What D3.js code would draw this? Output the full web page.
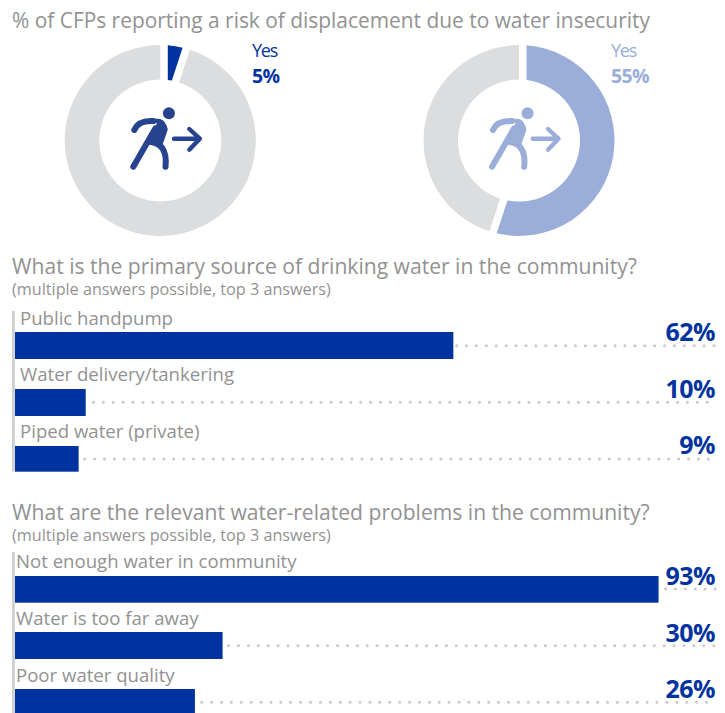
<!DOCTYPE html>
<html>
<head>
<meta charset="utf-8">
<script src="https://cdn.jsdelivr.net/npm/d3@7"></script>
<style>
  html, body { margin: 0; padding: 0; background: #fff; }
  svg { display: block; }
  text { font-family: "Open Sans", sans-serif; }
</style>
</head>
<body>
<div id="chart"></div>
<script>
// Survey results
const mainTitle = "% of CFPs reporting a risk of displacement due to water insecurity";
const donutAnswers = ["Yes", "Yes"];
const donutValues = [5, 55];

const sourceTitle = "What is the primary source of drinking water in the community?";
const problemTitle = "What are the relevant water-related problems in the community?";
const subTitle = "(multiple answers possible, top 3 answers)";

const sourceCategories = ["Public handpump", "Water delivery/tankering", "Piped water (private)"];
const sourceValues = [62, 10, 9];
const problemCategories = ["Not enough water in community", "Water is too far away", "Poor water quality"];
const problemValues = [93, 30, 26];

const width = 725, height = 713;
const BLUE = "#0033a0", LIGHT = "#9aaed9", GREY = "#dcddde", TEXT = "#929292";
const ICON_DARK = "#27438f";

const svg = d3.select("#chart").append("svg")
  .attr("width", width).attr("height", height);

svg.append("text").attr("x", 12).attr("y", 28)
  .attr("font-size", 20.9).attr("fill", TEXT).text(mainTitle);

// Donuts: the grey remainder keeps exact edges, the coloured slice is inset on both sides.
const donutLayout = [
  { cx: 160.3, colour: BLUE, icon: ICON_DARK, labelX: 252 },
  { cx: 519, colour: LIGHT, icon: LIGHT, labelX: 611 }
];
const cy = 140.5, rOuter = 95.5, rInner = 61;
const pie = d3.pie().sort(null);
const arc = d3.arc().innerRadius(rInner).outerRadius(rOuter).padRadius(100);

function drawIcon(g, colour) {
  g.append("circle").attr("cx", 8.6).attr("cy", -27.2).attr("r", 6).attr("fill", colour);
  g.append("path")
    .attr("d", "M-8,-22 L0,-21.6 Q5.5,-20 7.5,-11 L1.5,6.5 L-12.5,0.8 L-3.5,-17 Z")
    .attr("fill", colour);
  const stroke = (d, w) => g.append("path").attr("d", d).attr("fill", "none")
    .attr("stroke", colour).attr("stroke-width", w)
    .attr("stroke-linecap", "round").attr("stroke-linejoin", "round");
  stroke("M-26,-10.5 C-23,-17.5 -16,-20 -7,-19.4", 6);
  stroke("M-5,-12 L-27,26.2", 6);
  stroke("M-9.5,1.5 C0,2.5 7,9 5.2,26.2", 6);
  stroke("M13.7,-1.8 L39.5,-1.8 M29,-11.5 L39.5,-1.8 L29,9.2", 4.4);
}

donutValues.forEach((v, i) => {
  const layout = donutLayout[i];
  const g = svg.append("g").attr("transform", `translate(${layout.cx},${cy})`);
  const [yes, rest] = pie([v, 100 - v]);
  g.append("path").attr("d", arc({ ...rest, padAngle: 0 })).attr("fill", GREY);
  g.append("path").attr("d", arc({ ...yes, padAngle: 0.15 })).attr("fill", layout.colour);
  drawIcon(g, layout.icon);

  svg.append("text").attr("x", layout.labelX).attr("y", 57)
    .attr("font-size", 18).attr("letter-spacing", -1.2)
    .attr("fill", layout.colour).text(donutAnswers[i]);
  svg.append("text").attr("x", layout.labelX).attr("y", 82.7)
    .attr("font-size", 19.5).attr("font-weight", 700).attr("letter-spacing", -0.6)
    .attr("fill", layout.colour).text(v + "%");
});

// Bar panels
const panels = [
  {
    title: sourceTitle, categories: sourceCategories, values: sourceValues,
    titleY: 274, subY: 295, axisTop: 311, axisBottom: 471.7,
    pctWidth: 707, labelX: 20, barTop: [332, 389, 446], barH: [27, 27, 25.7],
    labelY: [325, 381, 438], valueY: [340.7, 397.7, 454], dotY: [345.7, 402.3, 459],
    dotGap: [3.3, 7.7, 6]
  },
  {
    title: problemTitle, categories: problemCategories, values: problemValues,
    titleY: 520, subY: 540.7, axisTop: 552, axisBottom: 713,
    pctWidth: 692, labelX: 16, barTop: [576, 632, 689], barH: [26.7, 27, 24],
    labelY: [567.7, 625, 681.7], valueY: [585, 642.3, 698.3], dotY: [589, 645.7, 702.3],
    dotGap: [7, 6, 6.7]
  }
];

const axisX = 15, dotEnd = 716;

panels.forEach(p => {
  const x = d3.scaleLinear().domain([0, 100]).range([axisX, axisX + p.pctWidth]);

  svg.append("text").attr("x", 12).attr("y", p.titleY)
    .attr("font-size", 21.1).attr("fill", TEXT).text(p.title);
  svg.append("text").attr("x", 12).attr("y", p.subY)
    .attr("font-size", 16.2).attr("fill", TEXT).text(subTitle);

  svg.append("rect").attr("x", 12).attr("y", p.axisTop)
    .attr("width", 2.8).attr("height", p.axisBottom - p.axisTop).attr("fill", "#cfcfcf");

  p.values.forEach((v, i) => {
    const end = x(v);
    svg.append("line")
      .attr("x1", end + p.dotGap[i]).attr("x2", dotEnd)
      .attr("y1", p.dotY[i]).attr("y2", p.dotY[i])
      .attr("stroke", "#c9c9c9").attr("stroke-width", 3)
      .attr("stroke-linecap", "round").attr("stroke-dasharray", "0 9.9");
    svg.append("rect").attr("x", x(0)).attr("y", p.barTop[i])
      .attr("width", end - x(0)).attr("height", p.barH[i]).attr("fill", BLUE);
    svg.append("text").attr("x", p.labelX).attr("y", p.labelY[i])
      .attr("font-size", 18.6).attr("fill", TEXT).text(p.categories[i]);
    svg.append("text").attr("x", 715).attr("y", p.valueY[i])
      .attr("text-anchor", "end").attr("font-size", 25).attr("font-weight", 700)
      .attr("letter-spacing", -0.5).attr("fill", BLUE).text(v + "%");
  });
});
</script>
</body>
</html>
